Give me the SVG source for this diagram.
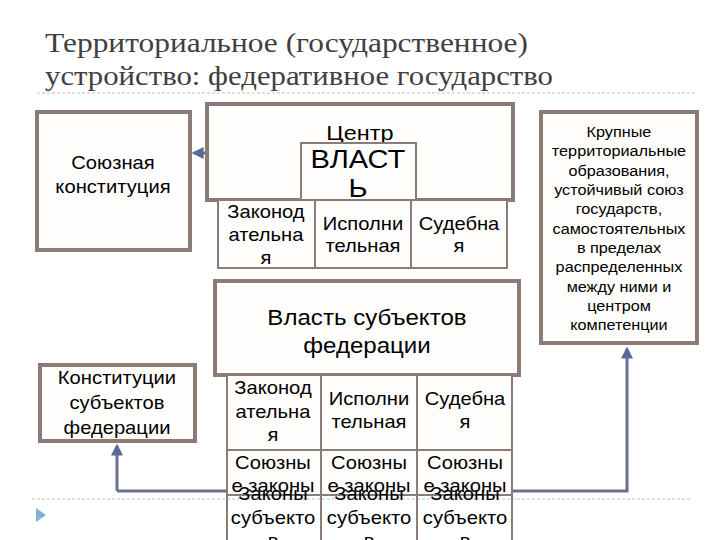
<svg xmlns="http://www.w3.org/2000/svg" width="720" height="540" viewBox="0 0 720 540">
<defs>
<style>
.title{font-family:"Liberation Serif","DejaVu Serif",serif;font-size:28px;fill:#404040}
.t{font-family:"Liberation Sans",Arial,sans-serif;fill:#000;text-anchor:middle}
.box{fill:#FFFEFC;stroke:#8C7B77;stroke-width:4}
.cell{fill:#FFFEFC;stroke:#8C7B77;stroke-width:2}
.dash{stroke:#BFBFBF;stroke-width:1;stroke-dasharray:3 2}
.conn{fill:none;stroke:#6B6F8F;stroke-width:3}
</style>
<marker id="ah" viewBox="0 0 10 10" refX="8" refY="5" markerWidth="4" markerHeight="4" orient="auto">
<path d="M0,0 L10,5 L0,10 z" fill="#5B6A9A"/>
</marker>
</defs>
<rect width="720" height="540" fill="#FFFFFF"/>
<g id="title">
<text class="title" x="45" y="52" textLength="483" lengthAdjust="spacingAndGlyphs">Территориальное (государственное)</text>
<text class="title" x="45" y="85" textLength="508" lengthAdjust="spacingAndGlyphs">устройство: федеративное государство</text>
</g>
<line class="dash" x1="37" y1="93" x2="697" y2="93"/>
<line class="dash" x1="32" y1="499" x2="690" y2="499"/>
<polygon points="36,508 46,515 36,522" fill="#7FB2D8"/>

<g id="connectors">
<path class="conn" d="M117,491 L117,446" marker-end="url(#ah)"/>
<path class="conn" d="M117,491 L627,491 L627,349" marker-end="url(#ah)"/>
<path class="conn" d="M207,153 L194,153" stroke-width="2.5" marker-end="url(#ah)"/>
</g>

<g id="soyuznaya">
<rect class="box" x="37" y="112" width="153" height="138"/>
<g transform="matrix(1.12 0 0 1 -13.56 0)">
<text class="t" x="113" y="169" font-size="18">Союзная</text>
<text class="t" x="113" y="193" font-size="18">конституция</text>
</g>
</g>

<g id="centr">
<rect class="box" x="207" y="104" width="306" height="96"/>
<g transform="matrix(1.12 0 0 1 -43.2 0)">
<text class="t" x="360" y="140" font-size="21">Центр</text>
</g>
</g>
<g id="vlast">
<rect class="cell" x="301" y="143" width="115" height="57"/>
<g transform="matrix(1.12 0 0 1 -42.96 0)">
<text class="t" x="358" y="168" font-size="26">ВЛАСТ</text>
<text class="t" x="358" y="197" font-size="26">Ь</text>
</g>
</g>
<g id="c-zak">
<rect class="cell" x="218" y="200" width="97" height="68"/>
<g transform="matrix(1.12 0 0 1 -31.92 0)">
<text class="t" x="266" y="218" font-size="18">Законод</text>
<text class="t" x="266" y="241" font-size="18">ательна</text>
<text class="t" x="266" y="264" font-size="18">я</text>
</g>
</g>
<g id="c-isp">
<rect class="cell" x="315" y="200" width="96" height="68"/>
<g transform="matrix(1.12 0 0 1 -43.56 0)">
<text class="t" x="363" y="230" font-size="18">Исполни</text>
<text class="t" x="363" y="252" font-size="18">тельная</text>
</g>
</g>
<g id="c-sud">
<rect class="cell" x="411" y="200" width="96" height="68"/>
<g transform="matrix(1.12 0 0 1 -55.08 0)">
<text class="t" x="459" y="230" font-size="18">Судебна</text>
<text class="t" x="459" y="252" font-size="18">я</text>
</g>
</g>

<g id="krupnye">
<rect class="box" x="541" y="112" width="156" height="231"/>
<g font-size="14.5" transform="matrix(1.12 0 0 1 -74.28 0)">
<text class="t" x="619" y="137">Крупные</text>
<text class="t" x="619" y="156">территориальные</text>
<text class="t" x="619" y="176">образования,</text>
<text class="t" x="619" y="195">устойчивый союз</text>
<text class="t" x="619" y="214">государств,</text>
<text class="t" x="619" y="234">самостоятельных</text>
<text class="t" x="619" y="253">в пределах</text>
<text class="t" x="619" y="272">распределенных</text>
<text class="t" x="619" y="292">между ними и</text>
<text class="t" x="619" y="311">центром</text>
<text class="t" x="619" y="330">компетенции</text>
</g>
</g>

<g id="vlast-subj">
<rect class="box" x="215" y="281" width="304" height="94"/>
<g transform="matrix(1.12 0 0 1 -44.04 0)">
<text class="t" x="367" y="325" font-size="21.5">Власть субъектов</text>
<text class="t" x="367" y="353" font-size="21.5">федерации</text>
</g>
</g>

<g id="konst-subj">
<rect class="box" x="40" y="365" width="155" height="76"/>
<g transform="matrix(1.12 0 0 1 -14.04 0)">
<text class="t" x="117" y="384" font-size="18">Конституции</text>
<text class="t" x="117" y="409" font-size="18">субъектов</text>
<text class="t" x="117" y="434" font-size="18">федерации</text>
</g>
</g>

<g id="s-zak">
<rect class="cell" x="227" y="375" width="94" height="75"/>
<g transform="matrix(1.12 0 0 1 -32.76 0)">
<text class="t" x="273" y="394" font-size="18">Законод</text>
<text class="t" x="273" y="418" font-size="18">ательна</text>
<text class="t" x="273" y="441" font-size="18">я</text>
</g>
</g>
<g id="s-isp">
<rect class="cell" x="321" y="375" width="96" height="75"/>
<g transform="matrix(1.12 0 0 1 -44.28 0)">
<text class="t" x="369" y="405" font-size="18">Исполни</text>
<text class="t" x="369" y="428" font-size="18">тельная</text>
</g>
</g>
<g id="s-sud">
<rect class="cell" x="417" y="375" width="95" height="75"/>
<g transform="matrix(1.12 0 0 1 -55.8 0)">
<text class="t" x="465" y="405" font-size="18">Судебна</text>
<text class="t" x="465" y="428" font-size="18">я</text>
</g>
</g>

<g id="u-1">
<rect class="cell" x="227" y="450" width="94" height="45"/>
<g transform="matrix(1.12 0 0 1 -32.76 0)">
<text class="t" x="273" y="469" font-size="18">Союзны</text>
<text class="t" x="273" y="492" font-size="18">е законы</text>
</g>
</g>
<g id="u-2">
<rect class="cell" x="321" y="450" width="96" height="45"/>
<g transform="matrix(1.12 0 0 1 -44.28 0)">
<text class="t" x="369" y="469" font-size="18">Союзны</text>
<text class="t" x="369" y="492" font-size="18">е законы</text>
</g>
</g>
<g id="u-3">
<rect class="cell" x="417" y="450" width="95" height="45"/>
<g transform="matrix(1.12 0 0 1 -55.8 0)">
<text class="t" x="465" y="469" font-size="18">Союзны</text>
<text class="t" x="465" y="492" font-size="18">е законы</text>
</g>
</g>

<g id="z-1">
<rect class="cell" x="227" y="495" width="94" height="60" style="fill:none"/>
<g transform="matrix(1.12 0 0 1 -32.76 0)">
<text class="t" x="273" y="500" font-size="18">Законы</text>
<text class="t" x="273" y="524" font-size="18">субъекто</text>
<text class="t" x="273" y="547" font-size="18">в</text>
</g>
</g>
<g id="z-2">
<rect class="cell" x="321" y="495" width="96" height="60" style="fill:none"/>
<g transform="matrix(1.12 0 0 1 -44.28 0)">
<text class="t" x="369" y="500" font-size="18">Законы</text>
<text class="t" x="369" y="524" font-size="18">субъекто</text>
<text class="t" x="369" y="547" font-size="18">в</text>
</g>
</g>
<g id="z-3">
<rect class="cell" x="417" y="495" width="95" height="60" style="fill:none"/>
<g transform="matrix(1.12 0 0 1 -55.8 0)">
<text class="t" x="465" y="500" font-size="18">Законы</text>
<text class="t" x="465" y="524" font-size="18">субъекто</text>
<text class="t" x="465" y="547" font-size="18">в</text>
</g>
</g>
</svg>
